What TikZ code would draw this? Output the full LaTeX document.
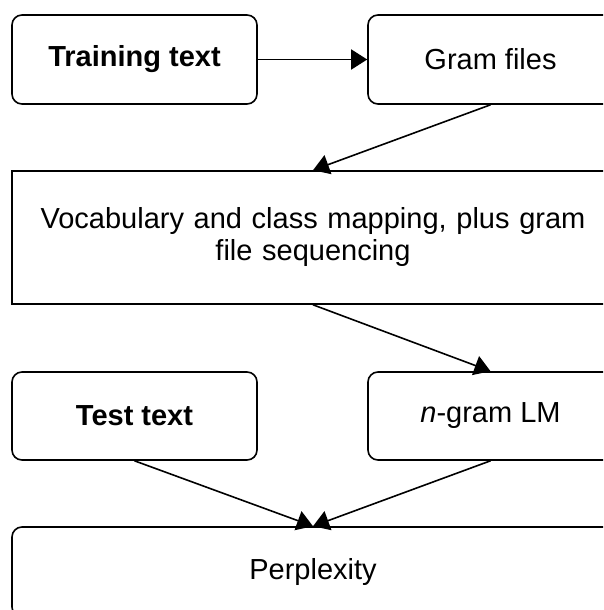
\documentclass[tikz,border=0pt]{standalone}
\usepackage{fontspec}
\setmainfont{Liberation Sans}
\usetikzlibrary{arrows.meta}
\begin{document}
\begin{tikzpicture}[x=1pt,y=-1pt,
  box/.style={draw, line width=1.6pt, inner sep=0pt, align=center,
    font=\fontsize{29}{32}\selectfont},
  rbox/.style={box, rounded corners=10pt},
  link/.style={line width=1.6pt, -{Triangle[length=16pt,width=20pt]}}]
\useasboundingbox (0,0) rectangle (603,610);
\clip (0,0) rectangle (603,610);
\node[rbox, minimum width=245pt, minimum height=89pt] (train) at (134.5,59.5) {\bfseries Training text};
\node[rbox, minimum width=245pt, minimum height=89pt] (gram) at (490.5,59.5) {Gram files};
\node[box, minimum width=602pt, minimum height=133pt, text width=595pt] (vocab) at (313,237.5) {Vocabulary and class mapping, plus gram\\file sequencing};
\node[rbox, minimum width=245pt, minimum height=88pt] (test) at (134.5,416) {\bfseries Test text};
\node[rbox, minimum width=245pt, minimum height=88pt] (ngram) at (490.5,416) {\textit{n}-gram LM};
\node[rbox, minimum width=602pt, minimum height=90pt] (perp) at (313,572) {Perplexity};
\draw[link] (train.east) -- (gram.west);
\draw[link] (gram.south) -- (vocab.north);
\draw[link] (vocab.south) -- (ngram.north);
\draw[link] (test.south) -- (perp.north);
\draw[link] (ngram.south) -- (perp.north);
\end{tikzpicture}
\end{document}
